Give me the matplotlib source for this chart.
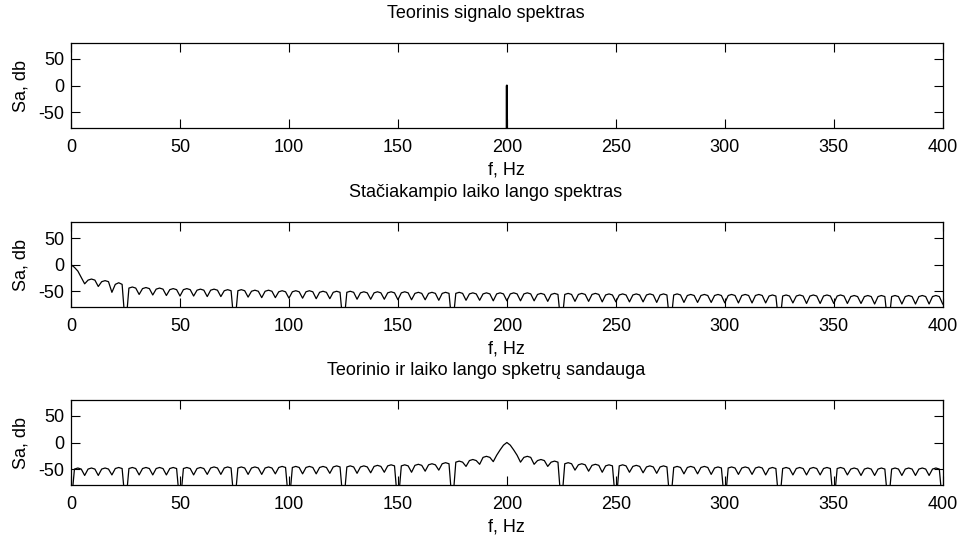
import numpy as np
import matplotlib
matplotlib.use("Agg")
import matplotlib.pyplot as plt

plt.rcParams['font.family'] = ['Liberation Sans', 'DejaVu Sans']
plt.rcParams['axes.unicode_minus'] = False

# theoretical spectrum: single line at 200 Hz
f_teor = [0, 199.8, 200, 200.2, 400]
sa_teor = [-300, -300, 0, -300, -300]

# frequency grid of the sampled spectra (0..400 Hz, 257 points)
f_grid = np.linspace(0, 400, 257)

# rectangular window spectrum, dB (rows = 25 Hz pieces)
sa_langas = [
    [0, -5, -12, -24, -36, -29, -27, -29, -41, -32, -30, -32, -52, -37, -34, -37],
    [-120, -44, -42, -44, -56, -45, -43, -45, -57, -46, -44, -46, -58, -47, -45, -47],
    [-59, -47, -45, -47, -59, -48, -46, -48, -60, -48, -46, -48, -60, -49, -47, -49],
    [-120, -49, -47, -49, -61, -50, -48, -50, -62, -50, -48, -50, -62, -51, -49, -51],
    [-63, -51, -49, -51, -63, -51, -49, -51, -64, -52, -50, -52, -64, -52, -50, -52],
    [-120, -52, -50, -52, -65, -53, -51, -53, -65, -53, -51, -53, -65, -53, -51, -53],
    [-66, -53, -51, -53, -66, -54, -52, -54, -66, -54, -52, -54, -67, -54, -52, -54],
    [-120, -54, -52, -54, -67, -55, -53, -55, -67, -55, -53, -55, -68, -55, -53, -55],
    [-68, -55, -53, -55, -68, -55, -53, -55, -68, -56, -54, -56, -69, -56, -54, -56],
    [-120, -56, -54, -56, -69, -56, -54, -56, -69, -56, -54, -56, -70, -57, -55, -57],
    [-70, -57, -55, -57, -70, -57, -55, -57, -70, -57, -55, -57, -71, -57, -55, -57],
    [-120, -57, -55, -57, -71, -58, -56, -58, -71, -58, -56, -58, -71, -58, -56, -58],
    [-72, -58, -56, -58, -72, -58, -56, -58, -72, -58, -56, -58, -72, -59, -57, -59],
    [-120, -59, -57, -59, -72, -59, -57, -59, -73, -59, -57, -59, -73, -59, -57, -59],
    [-73, -59, -57, -59, -73, -60, -58, -60, -73, -60, -58, -60, -74, -60, -58, -60],
    [-120, -60, -58, -60, -74, -60, -58, -60, -74, -60, -58, -60, -74, -60, -58, -60],
    [-74],
]

# product of theoretical and window spectra, dB
sa_sandauga = [
    [-120, -50, -48, -50, -62, -50, -48, -50, -62, -50, -48, -50, -61, -49, -47, -49],
    [-120, -49, -47, -49, -61, -49, -47, -49, -61, -49, -47, -49, -61, -49, -47, -49],
    [-120, -49, -47, -49, -61, -49, -47, -49, -60, -48, -46, -48, -60, -48, -46, -48],
    [-120, -48, -46, -48, -60, -48, -46, -48, -60, -48, -46, -48, -59, -47, -45, -47],
    [-120, -47, -45, -47, -59, -47, -45, -47, -59, -47, -45, -47, -58, -46, -44, -46],
    [-120, -46, -44, -46, -58, -46, -44, -46, -57, -45, -43, -45, -56, -44, -42, -44],
    [-120, -44, -42, -44, -56, -43, -41, -43, -54, -42, -40, -42, -52, -40, -38, -40],
    [-120, -37, -35, -37, -45, -34, -32, -34, -41, -28, -26, -28, -36, -24, -14, -5],
    [0, -5, -14, -24, -37, -28, -26, -28, -41, -34, -32, -34, -45, -37, -35, -37],
    [-120, -40, -38, -40, -52, -42, -40, -42, -54, -43, -41, -43, -56, -44, -42, -44],
    [-120, -44, -42, -44, -56, -45, -43, -45, -57, -46, -44, -46, -58, -46, -44, -46],
    [-120, -47, -45, -47, -59, -47, -45, -47, -59, -47, -45, -47, -60, -48, -46, -48],
    [-120, -48, -46, -48, -60, -48, -46, -48, -60, -48, -46, -48, -61, -49, -47, -49],
    [-120, -49, -47, -49, -61, -49, -47, -49, -61, -49, -47, -49, -61, -49, -47, -49],
    [-120, -49, -47, -49, -61, -50, -48, -50, -62, -50, -48, -50, -62, -50, -48, -50],
    [-120, -50, -48, -50, -62, -50, -48, -50, -62, -50, -48, -50, -62, -50, -48, -50],
    [-120],
]

titles = ['Teorinis signalo spektras',
          'Stačiakampio laiko lango spektras',
          'Teorinio ir laiko lango spketrų sandauga']
x_ticks = [0, 50, 100, 150, 200, 250, 300, 350, 400]
y_ticks = [-50, 0, 50]

fig = plt.figure(figsize=(9.6, 5.38), dpi=100)
bottoms = [0.762, 0.429, 0.0985]
series = [(f_teor, sa_teor),
          (f_grid, np.concatenate(sa_langas)),
          (f_grid, np.concatenate(sa_sandauga))]

for i in range(3):
    ax = fig.add_axes([0.074, bottoms[i], 0.908, 0.158])
    x, y = series[i]
    lw = 1.5 if i == 0 else 0.9
    ax.plot(x, y, color='k', linewidth=lw)
    ax.set_xlim(0, 400)
    ax.set_ylim(-80, 80)
    ax.set_xticks(x_ticks)
    ax.set_yticks(y_ticks)
    ax.tick_params(direction='in', top=True, right=True, length=6.5,
                   width=0.8, labelsize=13)
    ax.tick_params(axis='x', pad=8)
    ax.tick_params(axis='y', pad=5)
    for sp in ax.spines.values():
        sp.set_linewidth(0.9)
    # titles sit a little left of the axes centre in the original
    ax.set_title(titles[i], fontsize=13, pad=18, x=0.476)
    ax.set_xlabel('f, Hz', fontsize=13, labelpad=4)
    ax.set_ylabel('Sa, db', fontsize=13, labelpad=6)

fig.savefig('out.png', dpi=100)
